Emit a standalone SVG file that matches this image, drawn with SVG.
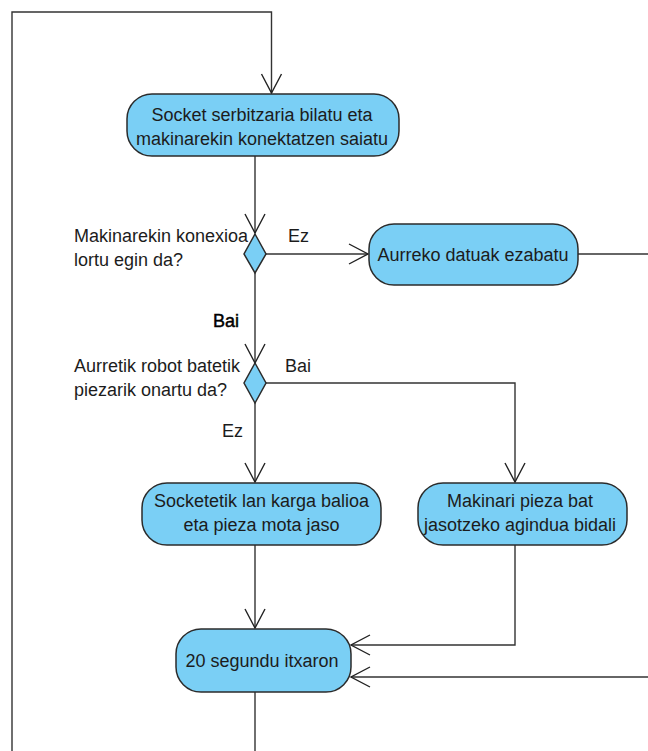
<svg xmlns="http://www.w3.org/2000/svg" width="648" height="751" viewBox="0 0 648 751">
  <defs>
    <marker id="arr" markerUnits="userSpaceOnUse" markerWidth="24" markerHeight="24" viewBox="-21 -12 24 24" refX="0" refY="0" orient="auto" overflow="visible">
      <path d="M -19 -10 L 0 0 L -19 10" fill="none" stroke="#222" stroke-width="1.4"/>
    </marker>
  </defs>
  <style>
    .node { fill: #7acff5; stroke: #2b2b2b; stroke-width: 1.5; }
    .t { font-family: "Liberation Sans", Arial, sans-serif; font-size: 18px; fill: #1c1c1c; }
    .c { text-anchor: middle; }
    .lbl { font-family: "Liberation Sans", Arial, sans-serif; font-size: 18px; fill: #1c1c1c; }
    .edge { fill: none; stroke: #333; stroke-width: 1.4; }
  </style>
  <rect width="648" height="751" fill="#fff"/>

  <g id="connectors">
    <path class="edge" d="M 12 751 L 12 12 L 271.5 12 L 271.5 93" marker-end="url(#arr)"/>
    <path class="edge" d="M 255 156 L 255 233" marker-end="url(#arr)"/>
    <path class="edge" d="M 266 254 L 368 254" marker-end="url(#arr)"/>
    <path class="edge" d="M 578 254 L 648 254"/>
    <path class="edge" d="M 255 273 L 255 363" marker-end="url(#arr)"/>
    <path class="edge" d="M 266 383 L 515 383 L 515 482" marker-end="url(#arr)"/>
    <path class="edge" d="M 255 403 L 255 482" marker-end="url(#arr)"/>
    <path class="edge" d="M 255 545 L 255 628" marker-end="url(#arr)"/>
    <path class="edge" d="M 515 545 L 515 645 L 351 645" marker-end="url(#arr)"/>
    <path class="edge" d="M 648 677 L 351 677" marker-end="url(#arr)"/>
    <path class="edge" d="M 255 692 L 255 751"/>
    <text class="lbl" x="288" y="242">Ez</text>
    <text class="lbl" x="213" y="327" style="fill:#000;stroke:#000;stroke-width:0.45">Bai</text>
    <text class="lbl" x="285" y="372">Bai</text>
    <text class="lbl" x="222" y="437">Ez</text>
  </g>

  <g id="n1">
    <rect class="node" x="127" y="94" width="272" height="62" rx="25" ry="25"/>
    <text class="t c" x="262" y="121">Socket serbitzaria bilatu eta</text>
    <text class="t c" x="262" y="145">makinarekin konektatzen saiatu</text>
  </g>

  <g id="d1">
    <polygon class="node" points="255,234 266,254 255,273 244,254"/>
    <text class="t" x="74" y="242">Makinarekin konexioa</text>
    <text class="t" x="74" y="266">lortu egin da?</text>
  </g>

  <g id="n2">
    <rect class="node" x="369" y="224" width="209" height="61" rx="25" ry="25"/>
    <text class="t c" x="473" y="261">Aurreko datuak ezabatu</text>
  </g>

  <g id="d2">
    <polygon class="node" points="255,363 266,383 255,403 244,383"/>
    <text class="t" x="74" y="372">Aurretik robot batetik</text>
    <text class="t" x="74" y="396">piezarik onartu da?</text>
  </g>

  <g id="n3">
    <rect class="node" x="142" y="483" width="239" height="62" rx="25" ry="25"/>
    <text class="t c" x="261.5" y="507">Socketetik lan karga balioa</text>
    <text class="t c" x="261.5" y="531">eta pieza mota jaso</text>
  </g>

  <g id="n4">
    <rect class="node" x="418" y="483" width="209" height="62" rx="25" ry="25"/>
    <text class="t c" x="520" y="507">Makinari pieza bat</text>
    <text class="t c" x="520" y="531">jasotzeko agindua bidali</text>
  </g>

  <g id="n5">
    <rect class="node" x="176" y="629" width="175" height="63" rx="25" ry="25"/>
    <text class="t c" x="262" y="667">20 segundu itxaron</text>
  </g>
</svg>
